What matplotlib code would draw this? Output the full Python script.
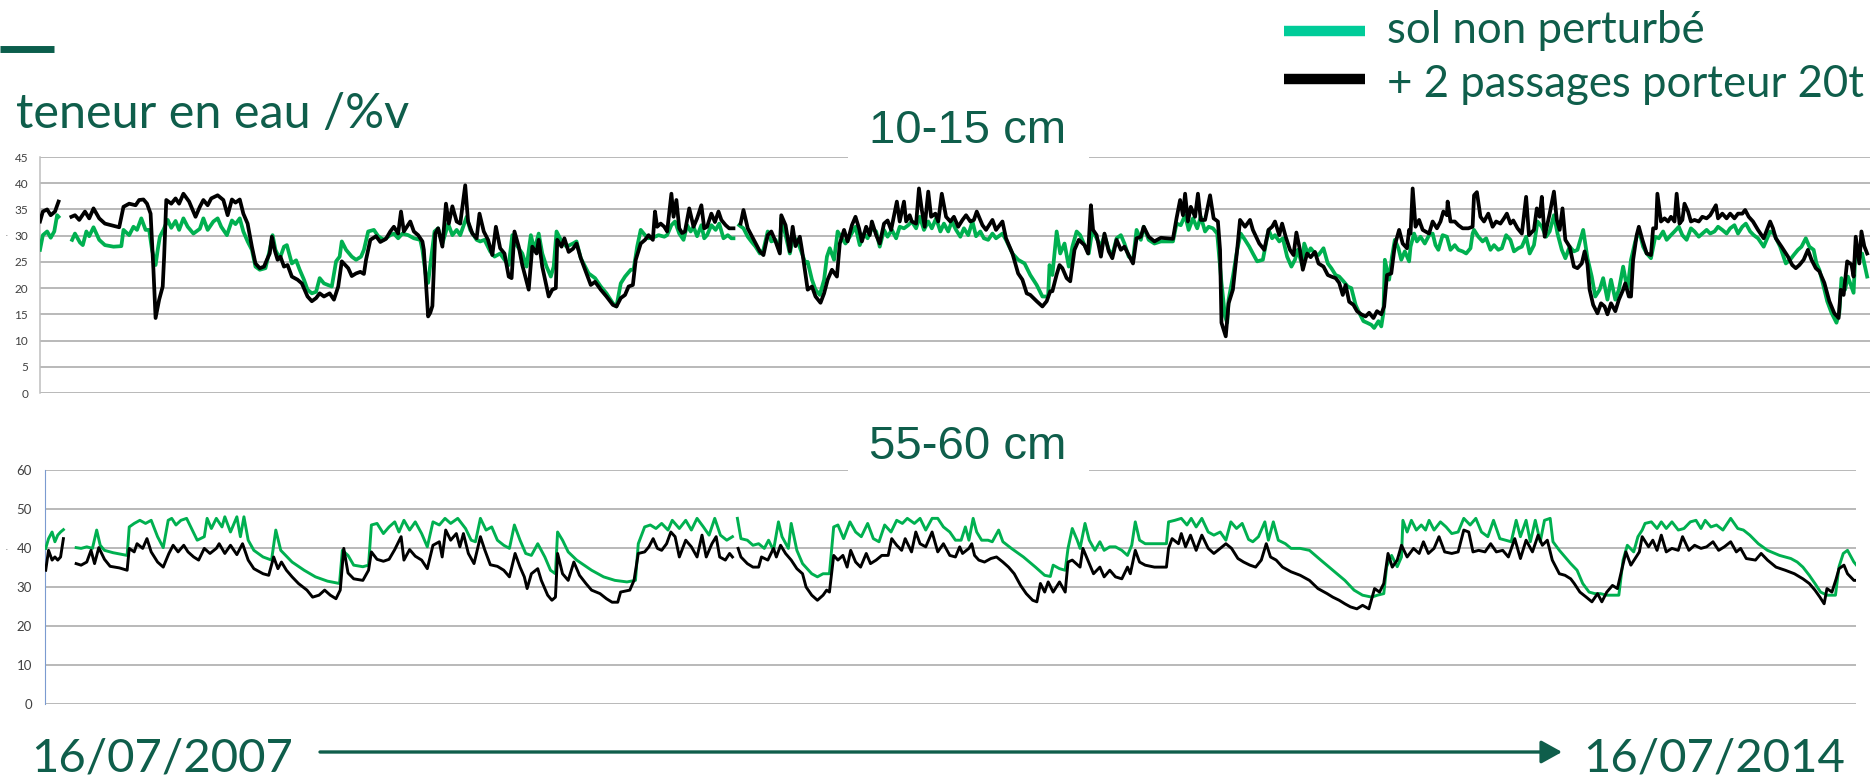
import numpy as np
import pandas as pd
import matplotlib
matplotlib.use("Agg")
import matplotlib.pyplot as plt
from matplotlib.lines import Line2D
from matplotlib.patches import Rectangle, FancyArrowPatch

NAN = float("nan")
START = pd.Timestamp("2007-07-16")
END = pd.Timestamp("2014-07-16")

SERIES_LABELS = ["sol non perturbé", "+ 2 passages porteur 20t"]
DEPTH_LABELS = ["10-15 cm", "55-60 cm"]
Y_LABEL = "teneur en eau /%v"
SHALLOW_TICKS = list(range(0, 46, 5))
DEEP_TICKS = list(range(0, 61, 10))

# (days since 16/07/2007, water content %v) -- 10-15 cm, undisturbed soil
shallow_undisturbed = [
    (0, 27.3), (4, 30.1), (10, 30.8), (15, 29.6), (20, 30.8), (24, 33.9), (26, 33.6), (35, NAN),
    (45, 29.2), (49, 30.4), (56, 28.7), (60, 28.2), (65, 30.8), (69, 29.9), (75, 31.6), (83, 29.2),
    (91, 28.2), (103, 27.9), (114, 28.0), (117, 31.1), (125, 30.1), (131, 31.7), (136, 31.1), (142, 33.3),
    (148, 31.1), (153, 31.1), (157, 27.3), (162, 24.4), (165, 27.3), (168, 29.8), (173, 31.1), (179, 33.0),
    (184, 31.5), (190, 32.8), (195, 31.1), (201, 33.3), (207, 31.7), (215, 30.4), (224, 31.3), (229, 33.3),
    (235, 31.1), (243, 32.7), (249, 33.3), (254, 31.7), (262, 30.1), (269, 32.9), (274, 32.2), (280, 33.3),
    (285, 30.8), (291, 28.9), (297, 27.3), (302, 24.1), (308, 23.5), (316, 23.8), (322, 27.3), (326, 30.1),
    (330, 27.3), (336, 25.6), (342, 27.9), (346, 28.2), (353, 24.7), (359, 25.3), (364, 23.5), (370, 21.6),
    (375, 19.7), (381, 19.0), (387, 19.3), (392, 21.9), (398, 20.9), (409, 20.3), (415, 25.1), (420, 26.0),
    (423, 28.9), (429, 27.3), (437, 26.0), (443, 25.4), (450, 26.0), (454, 27.3), (460, 30.8), (468, 31.1),
    (474, 29.9), (482, 29.2), (491, 30.1), (496, 30.4), (502, 29.5), (508, 30.4), (516, 30.1), (524, 29.5),
    (533, 29.2), (536, 27.3), (541, 22.2), (544, 21.0), (547, 24.4), (553, 30.8), (558, 31.4), (564, 28.5),
    (569, 30.8), (572, 32.3), (578, 30.1), (584, 31.1), (589, 30.1), (598, 33.6), (603, 31.1), (612, 29.2),
    (617, 28.9), (623, 29.2), (631, 27.0), (637, 26.0), (645, 26.6), (651, 25.4), (657, 24.4), (662, 30.1),
    (668, 28.2), (676, 26.6), (682, 24.1), (688, 30.1), (693, 27.3), (699, 30.4), (704, 26.6), (710, 24.1),
    (716, 22.2), (720, 24.1), (724, 30.8), (730, 29.2), (738, 27.9), (747, 28.5), (752, 28.9), (758, 25.7),
    (769, 22.8), (778, 21.9), (786, 20.3), (794, 19.0), (803, 17.1), (808, 16.5), (814, 20.9), (820, 22.2),
    (828, 23.5), (832, 23.5), (837, 27.9), (842, 31.1), (848, 30.1), (853, 29.5), (862, 29.8), (867, 30.1),
    (875, 29.8), (879, 30.1), (885, 32.0), (890, 32.7), (896, 30.4), (902, 29.2), (907, 32.0), (912, 30.8),
    (916, 31.7), (921, 29.9), (927, 32.0), (931, 29.5), (935, 30.1), (941, 32.0), (947, 31.1), (952, 32.3),
    (958, 29.5), (964, 30.1), (969, 29.5), (972, 29.5), (976, NAN), (980, 32.0), (986, 31.4), (992, 29.8),
    (997, 28.9), (1003, 27.9), (1009, 26.6), (1014, 27.3), (1020, 30.8), (1025, 28.9), (1031, 29.2), (1037, 27.0),
    (1039, 33.3), (1045, 30.1), (1051, 26.6), (1056, 29.8), (1062, 28.9), (1068, 26.6), (1073, 24.7), (1076, 25.0),
    (1082, 21.6), (1087, 19.7), (1093, 18.7), (1099, 21.6), (1103, 26.0), (1107, 27.6), (1113, 25.4), (1118, 30.8),
    (1124, 29.5), (1129, 28.5), (1135, 29.8), (1143, 31.7), (1149, 28.2), (1155, 30.4), (1160, 29.5), (1166, 31.4),
    (1172, 30.8), (1177, 27.9), (1183, 31.1), (1188, 29.8), (1194, 31.1), (1200, 29.5), (1205, 31.7), (1211, 31.4),
    (1217, 32.0), (1222, 32.7), (1228, 31.4), (1233, 33.6), (1239, 31.1), (1245, 32.7), (1250, 31.4), (1256, 33.3),
    (1262, 30.8), (1267, 32.3), (1273, 30.8), (1278, 32.7), (1284, 31.1), (1290, 29.8), (1295, 31.4), (1301, 30.1),
    (1307, 32.7), (1312, 29.9), (1318, 30.8), (1323, 29.5), (1329, 29.2), (1335, 30.4), (1340, 29.5), (1349, 30.4),
    (1354, 29.2), (1363, 26.6), (1371, 25.4), (1380, 24.7), (1388, 22.5), (1397, 20.6), (1405, 18.4), (1413, 18.4),
    (1415, 24.4), (1419, 22.5), (1425, 30.8), (1430, 26.6), (1436, 28.5), (1442, 24.1), (1447, 27.9), (1453, 30.8),
    (1458, 30.1), (1464, 28.2), (1470, 26.6), (1475, 31.1), (1481, 29.5), (1487, 27.9), (1492, 30.1), (1498, 27.3),
    (1503, 26.3), (1509, 29.5), (1515, 30.1), (1520, 28.5), (1526, 26.0), (1532, 25.4), (1537, 31.1), (1543, 29.2),
    (1547, 31.7), (1554, 29.2), (1562, 28.5), (1571, 28.9), (1588, 28.9), (1593, 32.3), (1599, 32.0), (1605, 33.9),
    (1610, 31.1), (1616, 33.3), (1622, 31.4), (1627, 33.6), (1633, 30.8), (1638, 31.7), (1644, 31.4), (1650, 30.4),
    (1652, 27.3), (1656, 21.0), (1661, 14.6), (1664, 13.4), (1666, 17.8), (1672, 22.2), (1678, 27.3), (1683, 30.4),
    (1689, 29.2), (1695, 27.9), (1700, 26.6), (1706, 25.1), (1714, 25.4), (1722, 31.1),
    (1727, 29.5), (1731, 30.1), (1737, 28.9), (1742, 29.5), (1748, 26.0), (1754, 24.1), (1759, 25.4), (1763, 27.3),
    (1769, 24.4), (1772, 28.5), (1777, 26.6), (1781, 27.6), (1787, 26.6), (1792, 26.3), (1799, 27.6), (1805, 24.7),
    (1810, 23.8), (1816, 22.5), (1821, 22.2), (1827, 21.3), (1833, 20.3), (1838, 20.0), (1844, 16.8), (1849, 15.3),
    (1855, 13.7), (1860, 13.4), (1866, 13.0), (1870, 12.4), (1876, 13.7), (1880, 12.7), (1883, 15.3), (1885, 25.4),
    (1891, 21.6), (1895, 26.0), (1899, 29.2), (1904, 27.6), (1908, 25.4), (1913, 27.0), (1919, 25.1), (1921, 27.9),
    (1926, 30.4), (1930, 28.9), (1935, 29.8), (1941, 28.5), (1947, 30.1), (1952, 30.4), (1956, 28.2), (1960, 27.3),
    (1966, 30.1), (1972, 29.8), (1977, 27.3), (1983, 28.2), (1988, 27.3), (1994, 27.0), (1999, 26.6), (2005, 27.6),
    (2008, 30.4), (2010, 31.1), (2016, 29.8), (2022, 28.9), (2027, 29.5), (2033, 27.3), (2038, 28.2), (2044, 27.3),
    (2049, 27.6), (2055, 30.1), (2061, 29.2), (2066, 27.0), (2072, 27.6), (2077, 27.9), (2083, 29.8), (2088, 26.6),
    (2094, 28.2), (2099, 32.7), (2105, 31.7), (2111, 29.8), (2116, 30.8), (2122, 33.9), (2127, 30.4), (2133, 27.3),
    (2138, 25.7), (2144, 27.9), (2150, 27.0), (2155, 27.3), (2163, 31.1), (2169, 25.7), (2175, 22.2), (2180, 18.4),
    (2186, 19.7), (2191, 21.9), (2197, 17.8), (2202, 21.6), (2208, 17.8), (2213, 19.7), (2219, 24.1), (2225, 19.7),
    (2230, 25.4), (2236, 28.9), (2241, 31.1), (2247, 27.9), (2252, 26.6), (2258, 25.7), (2264, 29.8), (2269, 29.5),
    (2275, 30.8), (2280, 29.2), (2286, 30.1), (2291, 30.8), (2297, 31.7), (2302, 30.1), (2308, 29.2), (2314, 31.4),
    (2319, 30.8), (2325, 29.8), (2330, 30.4), (2336, 31.1), (2341, 30.4), (2347, 30.8), (2352, 31.7), (2358, 31.1),
    (2364, 30.4), (2369, 31.4), (2375, 32.0), (2380, 30.4), (2386, 31.7), (2391, 32.3), (2397, 30.8), (2402, 30.1),
    (2408, 29.5), (2416, 27.9), (2425, 30.8), (2430, 30.4), (2439, 27.9), (2447, 24.7), (2453, 25.4), (2458, 26.3),
    (2464, 27.3), (2469, 27.9), (2475, 29.5), (2480, 27.9), (2486, 27.3), (2490, 24.7), (2494, 23.5), (2500, 20.3),
    (2505, 17.5), (2511, 15.3), (2518, 13.4), (2522, 15.3), (2525, 21.9), (2530, 19.7), (2534, 22.2), (2542, 19.1),
    (2545, 28.2), (2550, 26.0), (2554, 26.6), (2558, 24.1), (2561, 22.2),
]

# 10-15 cm, after two passes of a 20 t forwarder
shallow_trafficked = [
    (0, 32.7), (4, 34.6), (10, 35.0), (15, 33.9), (21, 34.6), (26, 36.5), (35, NAN),
    (44, 33.6), (49, 33.9), (55, 33.0), (63, 34.6), (69, 33.3), (75, 35.2), (83, 33.3), (91, 32.3),
    (111, 31.6), (117, 35.5), (125, 36.1), (134, 35.8), (139, 36.8), (145, 36.9), (150, 36.1), (155, 34.2),
    (159, 23.5), (162, 14.3), (167, 17.8), (172, 20.3), (174, 26.0), (177, 36.8), (184, 36.1), (190, 37.1),
    (195, 36.1), (201, 38.0), (209, 36.5), (218, 33.6), (224, 35.5), (229, 36.8), (235, 35.8), (240, 37.1),
    (249, 37.7), (257, 36.8), (263, 33.9), (269, 36.9), (274, 36.3), (280, 36.9), (285, 34.2), (291, 32.3),
    (297, 27.9), (302, 24.7), (308, 23.8), (314, 24.1), (318, 25.4), (322, 26.6), (325, 29.8), (329, 27.2),
    (333, 25.4), (337, 26.0), (342, 24.1), (347, 24.4), (353, 22.2), (361, 21.6), (367, 20.9), (375, 18.4),
    (381, 17.5), (387, 18.1), (392, 19.0), (398, 18.4), (406, 19.0), (412, 17.8), (418, 20.3), (423, 25.1),
    (432, 23.8), (437, 22.3), (443, 22.8), (449, 23.1), (454, 22.7), (457, 25.4), (463, 29.2), (471, 29.9),
    (477, 28.8), (485, 29.4), (491, 30.8), (496, 31.7), (502, 30.4), (506, 34.6), (510, 30.8), (519, 32.7),
    (524, 30.8), (530, 30.1), (536, 28.9), (538, 27.3), (541, 21.0), (544, 14.6), (547, 15.3), (550, 16.6),
    (554, 30.4), (558, 31.4), (564, 27.9), (569, 36.1), (573, 32.3), (578, 35.6), (584, 32.7), (589, 32.3),
    (596, 39.6), (600, 32.7), (606, 30.4), (612, 29.5), (616, 34.2), (622, 30.8), (628, 29.2), (634, 26.3),
    (639, 31.7), (645, 27.6), (651, 26.6), (657, 22.2), (661, 21.9), (665, 30.8), (671, 27.9), (676, 24.4),
    (685, 19.7), (690, 27.9), (696, 26.6), (699, 29.2), (704, 24.1), (713, 18.4), (718, 19.7), (723, 20.0),
    (725, 29.2), (731, 27.9), (735, 29.5), (741, 26.9), (747, 27.5), (752, 28.5), (758, 25.7), (766, 22.8),
    (772, 20.6), (778, 21.2), (786, 19.7), (794, 18.4), (803, 16.8), (808, 16.5), (814, 18.1), (820, 18.7),
    (825, 20.3), (831, 20.6), (835, 25.4), (842, 28.5), (848, 29.2), (853, 30.1), (859, 29.2), (862, 34.6),
    (865, 31.7), (870, 32.3), (875, 31.7),
    (879, 30.8), (885, 38.0), (888, 33.6), (892, 36.8), (896, 31.4), (900, 30.5), (904, 30.8), (910, 35.2),
    (916, 31.7), (921, 33.3), (927, 35.8), (931, 31.4), (935, 31.7), (941, 34.2), (946, 32.6), (951, 34.6),
    (955, 33.0), (961, 32.0), (966, 31.4), (972, 31.4), (977, NAN), (982, 32.3), (986, 34.9), (992, 31.4),
    (997, 30.1), (1003, 28.5), (1009, 27.0), (1014, 26.3), (1020, 30.1), (1025, 30.8), (1031, 28.9), (1037, 26.6),
    (1039, 33.9), (1045, 32.0), (1051, 27.0), (1055, 31.7), (1059, 28.0), (1065, 29.8), (1068, 27.3), (1072, 23.5),
    (1076, 19.7), (1082, 20.3), (1087, 18.4), (1094, 17.2), (1099, 19.0), (1104, 21.6), (1110, 23.5), (1117, 22.2),
    (1121, 28.5), (1127, 31.1), (1132, 28.9), (1138, 32.0), (1143, 33.6), (1148, 31.4), (1152, 28.9), (1158, 31.7),
    (1163, 30.1), (1166, 32.7), (1172, 30.1), (1177, 28.5), (1183, 32.3), (1188, 32.9), (1193, 31.1), (1201, 36.5),
    (1205, 32.7), (1211, 36.5), (1214, 32.7), (1219, 33.9), (1222, 32.7), (1228, 32.3), (1232, 39.0), (1236, 34.9),
    (1240, 31.7), (1245, 38.4), (1249, 33.6), (1255, 34.2), (1259, 32.7), (1264, 38.0), (1270, 33.6), (1276, 32.7),
    (1281, 33.6), (1287, 31.7), (1293, 33.0), (1298, 33.9), (1304, 32.7), (1309, 33.0), (1313, 34.6), (1321, 32.0),
    (1326, 31.1), (1335, 33.0), (1340, 31.1), (1349, 32.7), (1354, 29.5), (1363, 26.6), (1371, 22.8), (1377, 21.6),
    (1383, 19.0), (1388, 18.7), (1397, 17.5), (1405, 16.5), (1411, 17.5), (1416, 19.4), (1419, 19.4), (1425, 22.6),
    (1429, 24.4), (1433, 23.8), (1439, 21.9), (1444, 21.3), (1450, 27.3), (1456, 29.2), (1464, 28.2), (1469, 26.6),
    (1473, 35.8), (1476, 31.1), (1481, 30.1), (1487, 26.0), (1492, 30.4), (1498, 27.0), (1503, 25.7), (1509, 29.2),
    (1515, 27.3), (1520, 27.9), (1526, 26.3), (1532, 24.7), (1537, 29.5), (1543, 29.8), (1547, 31.7), (1554, 29.8),
    (1562, 28.9), (1571, 29.6), (1588, 29.4), (1593, 33.3), (1598, 36.8), (1602, 33.9), (1605, 38.0), (1609, 32.7),
    (1613, 35.5), (1619, 33.6), (1623, 38.0), (1627, 33.0), (1633, 33.0), (1640, 37.7), (1645, 33.3), (1651, 32.7),
    (1654, 27.3), (1656, 13.4), (1662, 10.8), (1666, 17.1), (1672, 19.7), (1678, 27.3), (1682, 33.0), (1689, 31.7),
    (1696, 33.0), (1700, 31.1), (1709, 28.5), (1716, 27.3), (1722, 31.1),
    (1727, 31.7), (1731, 32.7), (1737, 30.1), (1741, 32.3), (1746, 29.8), (1752, 27.3), (1757, 26.3), (1761, 30.6),
    (1766, 27.3), (1770, 23.5), (1776, 26.6), (1781, 25.9), (1787, 26.9), (1792, 24.7), (1799, 24.1), (1805, 22.5),
    (1810, 22.2), (1816, 21.9), (1821, 21.0), (1826, 18.7), (1830, 20.6), (1835, 17.4), (1841, 16.8), (1846, 15.6),
    (1852, 15.0), (1858, 14.6), (1863, 15.3), (1869, 14.3), (1874, 15.6), (1880, 15.0), (1884, 16.5), (1888, 22.5),
    (1894, 22.8), (1899, 28.2), (1905, 31.1), (1910, 28.5), (1916, 27.6), (1919, 31.1), (1921, 30.4), (1924, 39.0),
    (1928, 31.7), (1933, 33.0), (1938, 31.1), (1947, 30.4), (1952, 32.7), (1958, 31.4), (1963, 32.7), (1967, 34.6),
    (1972, 33.9), (1973, 36.5), (1977, 32.7), (1983, 32.7), (1988, 32.0), (1994, 31.4), (2002, 31.4), (2008, 31.7),
    (2010, 37.7), (2014, 38.3), (2019, 33.6), (2024, 32.7), (2030, 34.2), (2036, 31.7), (2041, 32.7), (2047, 32.3),
    (2052, 33.3), (2056, 34.2), (2061, 32.3), (2065, 32.9), (2071, 31.4), (2077, 30.4), (2083, 37.4), (2087, 30.1),
    (2094, 31.1), (2098, 35.2), (2102, 33.6), (2105, 37.4), (2109, 29.8), (2116, 34.2), (2122, 38.4), (2126, 33.0),
    (2130, 31.1), (2134, 35.2), (2138, 29.2), (2144, 27.9), (2150, 24.1), (2155, 23.8), (2161, 24.7), (2165, 27.0),
    (2169, 24.5), (2172, 19.7), (2177, 16.8), (2183, 15.2), (2188, 17.1), (2193, 16.5), (2197, 15.0), (2202, 17.1),
    (2208, 15.6), (2213, 17.8), (2219, 19.7), (2222, 20.9), (2227, 18.4), (2230, 18.4), (2233, 25.4), (2238, 30.1),
    (2241, 31.7), (2246, 29.2), (2252, 26.6), (2258, 26.3), (2261, 31.4), (2265, 31.4), (2267, 38.0), (2272, 32.7),
    (2277, 33.3), (2282, 32.7), (2286, 33.6), (2291, 32.7), (2294, 38.0), (2298, 32.3), (2302, 33.0), (2305, 36.1),
    (2310, 34.6), (2314, 32.7), (2319, 33.0), (2325, 32.7), (2330, 33.6), (2336, 33.3), (2341, 33.9), (2349, 35.8),
    (2352, 33.3), (2358, 34.2), (2364, 33.3), (2369, 34.2), (2375, 33.3), (2380, 34.2), (2386, 34.2), (2390, 34.9),
    (2395, 33.6), (2401, 32.7), (2408, 31.1), (2416, 29.5), (2425, 32.7), (2429, 31.4), (2433, 29.5), (2441, 27.9),
    (2450, 26.0), (2456, 24.4), (2461, 23.8), (2466, 24.4), (2472, 25.4), (2478, 27.3), (2483, 25.4), (2489, 23.8),
    (2494, 23.2), (2501, 21.0), (2508, 17.5), (2515, 15.2), (2521, 14.3), (2524, 19.7), (2528, 18.7), (2533, 25.1),
    (2539, 24.5), (2542, 22.2), (2545, 29.8), (2550, 24.7), (2553, 30.8), (2557, 28.0), (2561, 26.6),
]

# 55-60 cm, undisturbed soil
deep_undisturbed = [
    (1, 39.9), (5, 42.4), (10, 44.1), (14, 41.6), (18, 43.3), (22, 44.1), (26, 44.7), (35, NAN),
    (44, 40.1), (51, 39.9), (59, 40.3), (67, 39.9), (73, 44.6), (78, 40.7), (84, 39.4), (96, 38.8),
    (116, 38.1), (119, 45.4), (126, 46.3), (134, 47.1), (142, 46.3), (150, 47.1), (159, 42.9), (167, 40.1),
    (174, 47.1), (179, 47.6), (185, 45.9), (192, 47.1), (200, 47.6), (207, 45.0), (215, 42.0), (225, 42.9),
    (229, 47.6), (235, 45.0), (242, 47.6), (250, 45.4), (254, 48.0), (262, 44.1), (271, 48.0), (276, 42.9),
    (281, 48.0), (287, 42.0), (295, 39.4), (308, 37.7), (320, 36.9), (326, 44.6), (333, 39.4), (349, 36.4),
    (366, 34.3), (382, 32.6), (399, 31.5), (416, 30.9), (420, 39.4), (428, 38.1), (436, 35.6), (449, 35.2),
    (457, 35.6), (461, 45.9), (469, 46.3), (478, 43.7), (486, 45.4), (494, 46.7), (500, 44.1), (507, 47.1),
    (515, 44.6), (523, 46.7), (532, 43.7), (540, 40.3), (548, 46.7), (557, 45.9), (565, 47.6), (573, 46.3),
    (583, 47.6), (594, 45.0), (602, 42.0), (608, 41.6), (615, 47.6), (623, 44.6), (631, 45.4), (639, 42.0),
    (648, 40.7), (656, 39.9), (663, 45.9), (671, 42.0), (679, 38.6), (687, 38.1), (696, 41.1), (706, 37.7),
    (714, 34.3), (721, 33.4), (724, 44.1), (731, 42.0), (739, 39.0), (751, 36.9), (772, 34.3), (789, 32.6),
    (805, 31.7), (822, 31.3), (834, 31.7), (838, 41.1), (847, 45.4), (855, 45.9), (863, 45.0), (871, 46.3),
    (880, 44.6), (886, 47.1), (896, 45.0), (905, 47.1), (913, 44.6), (921, 47.6), (930, 45.4), (938, 43.3),
    (946, 47.6), (954, 43.3), (963, 42.0), (971, 42.9), (975, NAN), (978, 47.6), (983, 42.4), (992, 42.0),
    (1000, 40.7), (1008, 41.1), (1016, 39.9), (1022, 42.0), (1029, 39.4), (1036, 46.7), (1041, 42.9), (1050, 39.9),
    (1054, 46.3), (1062, 39.4), (1070, 36.0), (1083, 33.4), (1091, 32.6), (1099, 33.4), (1108, 33.4), (1114, 45.4),
    (1120, 45.9), (1128, 42.4), (1137, 46.7), (1145, 44.1), (1153, 42.9), (1162, 46.3), (1170, 42.4), (1178, 41.6),
    (1186, 45.9), (1195, 44.1), (1203, 47.1), (1211, 46.3), (1218, 47.6), (1228, 46.3), (1236, 47.6), (1244, 44.6),
    (1253, 47.6), (1261, 47.6), (1269, 45.4), (1278, 44.1), (1286, 42.0), (1292, 42.0),
    (1294, 42.0), (1300, 45.4), (1305, 42.0), (1311, 47.6), (1316, 44.1), (1323, 42.0), (1332, 42.0), (1338, 41.6),
    (1347, 44.6), (1353, 41.6), (1365, 39.9), (1382, 37.7), (1399, 35.1), (1412, 33.0), (1420, 32.7), (1424, 35.6),
    (1433, 34.7), (1441, 34.3), (1445, 39.9), (1451, 45.0), (1458, 42.0), (1462, 39.9), (1469, 46.3), (1475, 42.0),
    (1483, 39.4), (1490, 41.6), (1496, 39.4), (1504, 40.3), (1512, 40.3), (1521, 39.4), (1529, 38.1), (1535, 40.7),
    (1540, 46.7), (1546, 42.0), (1554, 41.1), (1567, 41.1), (1584, 41.1), (1587, 46.7), (1596, 47.1), (1605, 47.6),
    (1613, 45.9), (1619, 47.6), (1626, 45.4), (1634, 47.6), (1643, 44.1), (1651, 43.3), (1660, 44.1), (1668, 42.0),
    (1675, 46.7), (1683, 45.0), (1691, 46.3), (1700, 42.2), (1706, 41.6), (1714, 42.9), (1723, 46.7), (1728, 42.0),
    (1735, 46.7), (1742, 42.0), (1752, 41.1), (1760, 39.9), (1773, 39.9), (1786, 39.4), (1802, 36.9), (1819, 34.3),
    (1836, 31.7), (1849, 29.2), (1861, 27.9), (1874, 27.4), (1882, 27.9), (1891, 28.3), (1895, 35.2), (1902, 38.1),
    (1910, 35.2), (1916, 37.7), (1918, 47.1), (1924, 44.1), (1930, 47.1), (1937, 44.6), (1944, 45.9), (1950, 44.6),
    (1955, 47.1), (1962, 44.6), (1971, 46.7), (1979, 45.4), (1987, 43.7), (1996, 44.1), (2004, 47.6), (2013, 45.9),
    (2021, 47.6), (2029, 44.1), (2038, 42.9), (2046, 47.1), (2055, 42.4), (2063, 42.0), (2071, 41.6), (2078, 47.1),
    (2084, 42.9), (2092, 47.1), (2098, 41.6), (2105, 47.1), (2112, 41.6), (2118, 47.1), (2126, 47.6), (2130, 41.6),
    (2139, 39.4), (2147, 37.7), (2155, 36.0), (2164, 34.3), (2172, 30.9), (2181, 28.7), (2189, 28.3), (2197, 28.3),
    (2206, 27.9), (2223, 27.9), (2229, 36.9), (2235, 40.7), (2244, 39.0), (2250, 42.9), (2256, 44.6), (2260, 46.3),
    (2269, 46.7), (2277, 45.0), (2283, 46.7), (2290, 45.0), (2298, 46.7), (2307, 44.6), (2315, 45.0), (2324, 46.7),
    (2332, 47.1), (2339, 45.0), (2345, 47.1), (2353, 45.4), (2361, 45.9), (2370, 44.6), (2381, 47.6), (2391, 45.0),
    (2399, 44.6), (2408, 43.3), (2420, 41.1), (2433, 39.4), (2450, 38.1), (2466, 37.3), (2475, 36.4), (2483, 35.1),
    (2492, 33.0), (2500, 30.9), (2508, 28.7), (2517, 27.9), (2529, 27.9), (2534, 35.2), (2540, 38.6), (2546, 39.4),
    (2555, 36.4), (2561, 35.1),
]

# 55-60 cm, after two passes of a 20 t forwarder
deep_trafficked = [
    (1, 34.3), (5, 39.4), (10, 36.9), (14, 37.7), (18, 36.9), (22, 37.7), (26, 42.4), (35, NAN),
    (44, 36.0), (51, 35.6), (59, 36.4), (65, 39.4), (70, 36.0), (76, 40.1), (84, 37.1), (92, 35.3),
    (105, 34.9), (116, 34.3), (119, 39.9), (126, 39.0), (130, 41.1), (138, 39.9), (144, 42.4), (150, 39.0),
    (159, 36.4), (167, 35.1), (175, 38.6), (181, 40.7), (188, 39.0), (196, 40.7), (202, 39.0), (210, 37.7),
    (217, 36.9), (225, 39.9), (233, 38.6), (242, 39.9), (246, 41.1), (254, 38.6), (262, 40.7), (271, 38.3),
    (279, 41.1), (287, 36.9), (295, 34.7), (308, 33.4), (316, 33.0), (323, 37.7), (329, 34.7), (334, 36.4),
    (341, 34.3), (349, 32.6), (358, 30.9), (370, 29.2), (378, 27.4), (387, 27.9), (395, 29.2), (403, 27.9),
    (411, 27.0), (417, 29.2), (422, 39.9), (428, 33.6), (436, 32.1), (449, 31.7), (457, 34.3), (461, 39.0),
    (469, 37.1), (478, 36.6), (486, 37.1), (494, 39.6), (503, 42.9), (507, 36.9), (515, 39.6), (523, 37.9),
    (532, 36.9), (540, 34.7), (548, 40.7), (557, 41.6), (561, 37.7), (566, 44.6), (573, 42.0), (581, 43.7),
    (586, 40.3), (591, 43.7), (598, 38.6), (606, 36.0), (615, 42.9), (621, 39.6), (629, 35.7), (639, 35.3),
    (648, 34.3), (656, 32.6), (664, 38.6), (671, 35.1), (677, 32.6), (681, 29.6), (687, 33.4), (696, 34.7),
    (701, 31.7), (710, 27.9), (716, 26.6), (721, 27.4), (724, 38.6), (731, 33.4), (739, 31.7), (747, 36.4),
    (755, 33.0), (764, 30.9), (772, 29.2), (784, 28.3), (793, 27.0), (801, 26.1), (809, 26.1), (813, 28.7),
    (826, 29.2), (832, 31.7), (838, 38.6), (847, 39.0), (853, 40.3), (859, 42.4), (865, 39.9), (871, 39.4),
    (878, 41.1), (884, 44.1), (890, 42.9), (896, 37.7), (905, 42.0), (913, 40.3), (921, 37.7), (928, 43.3),
    (934, 37.7), (942, 41.1), (948, 42.9), (953, 37.7), (961, 36.9), (967, 38.6), (971, 37.7), (975, NAN),
    (979, 39.9), (983, 37.7), (992, 36.0), (1000, 35.1), (1008, 35.1), (1012, 37.7), (1021, 36.9), (1029, 39.9),
    (1033, 37.7), (1039, 40.7), (1046, 38.6), (1054, 36.9), (1062, 34.7), (1070, 33.4), (1075, 30.0), (1083, 27.9),
    (1091, 26.6), (1099, 27.9), (1104, 29.2), (1108, 28.7), (1114, 38.1), (1120, 36.9), (1127, 38.1), (1133, 35.1),
    (1138, 39.4), (1145, 36.4), (1152, 35.1), (1160, 38.6), (1166, 36.0), (1174, 36.9), (1182, 38.1), (1191, 38.1),
    (1196, 42.4), (1203, 40.7), (1210, 39.4), (1215, 42.4), (1224, 39.0), (1230, 44.1), (1236, 41.1), (1244, 40.3),
    (1253, 44.1), (1261, 39.0), (1269, 41.1), (1278, 38.1), (1286, 37.7), (1292, 40.3),
    (1296, 38.6), (1305, 39.9), (1309, 41.1), (1313, 38.1), (1319, 36.9), (1327, 36.4), (1336, 37.3), (1344, 37.7),
    (1353, 36.4), (1361, 35.1), (1369, 33.4), (1378, 30.4), (1386, 28.3), (1395, 26.6), (1401, 26.2), (1406, 30.9),
    (1412, 28.7), (1417, 31.3), (1424, 28.7), (1433, 31.3), (1441, 28.7), (1445, 36.4), (1451, 36.9), (1462, 35.1),
    (1466, 39.9), (1473, 36.9), (1481, 33.4), (1490, 35.1), (1496, 32.6), (1504, 34.3), (1512, 32.6), (1521, 32.1),
    (1529, 35.1), (1533, 33.4), (1540, 39.4), (1546, 36.4), (1554, 35.6), (1567, 35.1), (1584, 35.1), (1587, 39.9),
    (1592, 42.4), (1601, 41.1), (1605, 43.7), (1611, 40.3), (1618, 43.3), (1626, 39.4), (1634, 43.3), (1643, 39.9),
    (1651, 38.6), (1660, 39.9), (1668, 41.1), (1676, 39.9), (1685, 37.3), (1693, 36.4), (1702, 35.6), (1710, 35.1),
    (1718, 36.9), (1725, 41.1), (1731, 37.7), (1739, 36.9), (1748, 35.1), (1760, 33.9), (1773, 33.0), (1786, 31.7),
    (1798, 29.6), (1811, 28.3), (1819, 27.4), (1828, 26.6), (1836, 25.7), (1844, 24.9), (1853, 24.4), (1861, 25.3),
    (1870, 24.4), (1878, 29.6), (1885, 28.7), (1891, 30.9), (1897, 38.6), (1903, 35.1), (1910, 36.9), (1916, 40.7),
    (1924, 37.7), (1933, 39.9), (1941, 38.6), (1947, 41.6), (1954, 38.6), (1962, 39.9), (1969, 42.9), (1977, 39.0),
    (1987, 38.6), (1996, 39.0), (2004, 44.6), (2011, 44.1), (2017, 39.0), (2025, 39.4), (2034, 39.0), (2042, 41.1),
    (2050, 39.0), (2059, 39.4), (2067, 37.7), (2076, 42.4), (2084, 37.3), (2092, 42.0), (2101, 39.0), (2109, 43.3),
    (2115, 40.7), (2122, 42.0), (2129, 36.9), (2139, 33.4), (2147, 33.0), (2155, 32.1), (2160, 30.9), (2168, 28.7),
    (2177, 27.4), (2185, 26.2), (2193, 28.3), (2199, 26.2), (2206, 28.7), (2214, 30.4), (2221, 29.6), (2227, 34.3),
    (2233, 39.0), (2240, 35.6), (2246, 37.3), (2252, 39.0), (2256, 42.9), (2265, 40.3), (2271, 42.0), (2277, 39.4),
    (2283, 43.3), (2290, 39.0), (2298, 39.9), (2307, 39.4), (2313, 42.9), (2322, 39.4), (2330, 40.7), (2339, 39.9),
    (2347, 40.3), (2356, 41.6), (2364, 39.4), (2372, 40.3), (2381, 41.6), (2389, 39.0), (2395, 39.9), (2403, 37.3),
    (2416, 36.9), (2424, 38.6), (2433, 36.9), (2445, 35.1), (2458, 34.3), (2471, 33.4), (2483, 32.1), (2492, 30.9),
    (2500, 29.2), (2507, 27.4), (2513, 25.7), (2517, 29.6), (2524, 28.7), (2530, 32.1), (2534, 34.7), (2541, 35.6),
    (2546, 33.4), (2555, 31.7), (2561, 31.7),
]

TEXT_GREEN = "#0f5e4b"
LINE_GREEN = "#00b050"
KEY_GREEN = "#00cc99"
GRID_GREY = "#a6a6a6"
TICK_GREY = "#404040"

W, H = 1873, 778


def fx(px):
    return px / W


def fy(py):
    return 1 - py / H


def series(pairs):
    days = np.array([p[0] for p in pairs], dtype=float)
    vals = np.array([p[1] for p in pairs], dtype=float)
    return START + pd.to_timedelta(days, unit="D"), vals


fig = plt.figure(figsize=(W / 100, H / 100), dpi=100)
fig.patch.set_facecolor("white")

ax_top = fig.add_axes([fx(40), fy(393), fx(1870) - fx(40), fy(157) - fy(393)])
ax_bot = fig.add_axes([fx(45), fy(704), fx(1856) - fx(45), fy(470) - fy(704)])

panels = [
    (ax_top, shallow_undisturbed, shallow_trafficked, SHALLOW_TICKS, 2.7, 8.5, 8.6,
     START + pd.Timedelta(days=2565), "#bfbfbf", 1.1),
    (ax_bot, deep_undisturbed, deep_trafficked, DEEP_TICKS, 2.1, 9.5, 9.4,
     START + pd.Timedelta(days=2558), "#7b9bd0", 0.8),
]

for ax, ref, trt, ticks, lw, fs, pad, xmax, spine_col, spine_lw in panels:
    x, y = series(ref)
    ax.plot(x, y, color=LINE_GREEN, lw=lw, solid_joinstyle="round", zorder=3)
    x, y = series(trt)
    ax.plot(x, y, color="black", lw=lw, solid_joinstyle="round", zorder=4)
    ax.set_xlim(START, xmax)
    ax.set_ylim(ticks[0], ticks[-1])
    ax.set_yticks(ticks)
    ax.set_xticks([])
    ax.yaxis.grid(True, color=GRID_GREY, lw=1.1)
    ax.set_axisbelow(True)
    for side in ("top", "right", "bottom"):
        ax.spines[side].set_visible(False)
    ax.spines["left"].set_color(spine_col)
    ax.spines["left"].set_linewidth(spine_lw)
    ax.tick_params(axis="y", length=0, pad=pad, labelsize=fs, labelcolor=TICK_GREY)
    for lab in ax.get_yticklabels():
        lab.set_fontfamily("Lato")
    ax.patch.set_alpha(0)

# depth titles sit on white boxes that break the top grid line
for label, box_top, baseline in [(DEPTH_LABELS[0], 100, 143), (DEPTH_LABELS[1], 412, 459)]:
    fig.add_artist(Rectangle((fx(848), fy(box_top + 62)), fx(1089) - fx(848), fy(box_top) - fy(box_top + 62),
                             transform=fig.transFigure, facecolor="white", edgecolor="none", zorder=2))
    fig.text(fx(968), fy(baseline), label, ha="center", va="baseline", fontsize=34,
             family="Liberation Sans", color=TEXT_GREEN, zorder=3)

# axis title and top-left accent bar
fig.add_artist(Line2D([fx(0), fx(54)], [fy(49), fy(49)], transform=fig.transFigure,
                      color="#0b5e4c", lw=5, solid_capstyle="butt"))
fig.text(fx(16), fy(128), Y_LABEL, ha="left", va="baseline", fontsize=35,
         family="Lato", color=TEXT_GREEN)

# legend
for label, col, yk, yb in [(SERIES_LABELS[0], KEY_GREEN, 31, 43),
                           (SERIES_LABELS[1], "black", 79, 97)]:
    fig.add_artist(Line2D([fx(1284), fx(1365)], [fy(yk), fy(yk)], transform=fig.transFigure,
                          color=col, lw=7.5, solid_capstyle="butt"))
    fig.text(fx(1387), fy(yb), label, ha="left", va="baseline", fontsize=31.5,
             family="Lato", color=TEXT_GREEN)

# time span
fig.text(fx(31), fy(772), START.strftime("%d/%m/%Y"), ha="left", va="baseline",
         fontsize=34, family="Lato", color=TEXT_GREEN)
fig.text(fx(1583), fy(772), END.strftime("%d/%m/%Y"), ha="left", va="baseline",
         fontsize=34, family="Lato", color=TEXT_GREEN)
fig.add_artist(FancyArrowPatch((fx(320), fy(752)), (fx(1562), fy(752)), transform=fig.transFigure,
                               arrowstyle="-|>,head_length=0.9,head_width=0.5", mutation_scale=14,
                               color=TEXT_GREEN, lw=2.4, shrinkA=0, shrinkB=0))

# stray marks next to the axes
fig.text(fx(5), fy(236), ".", fontsize=8, color="#808080")
fig.text(fx(5), fy(550), ".", fontsize=8, color="#808080")

fig.savefig("out.png", dpi=100, facecolor="white")
